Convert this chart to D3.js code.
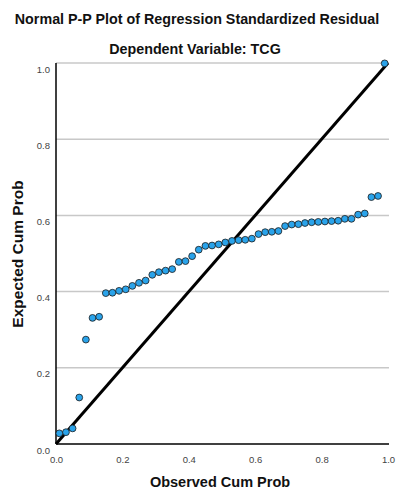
<!DOCTYPE html>
<html>
<head>
<meta charset="utf-8">
<script src="https://cdn.jsdelivr.net/npm/d3@7"></script>
<style>
  html, body { margin: 0; padding: 0; background: #fff; }
  svg text { font-family: "Liberation Sans", Arial, sans-serif; }
</style>
</head>
<body>
<svg id="chart" width="398" height="493"></svg>
<script>
// Expected cumulative probabilities of the standardized residuals, in observed order
const expectedCumProb = [
  0.028, 0.031, 0.041, 0.122, 0.274, 0.331, 0.334, 0.396, 0.397, 0.402,
  0.406, 0.415, 0.423, 0.429, 0.444, 0.451, 0.455, 0.459, 0.478, 0.480,
  0.493, 0.510, 0.520, 0.521, 0.524, 0.529, 0.533, 0.535, 0.536, 0.539,
  0.551, 0.556, 0.557, 0.559, 0.572, 0.576, 0.577, 0.580, 0.582, 0.583,
  0.584, 0.585, 0.586, 0.591, 0.591, 0.602, 0.605, 0.648, 0.651, 0.999
];
// Observed cumulative probabilities (case i of n)
const observedCumProb = [
  0.01, 0.03, 0.05, 0.07, 0.09, 0.11, 0.13, 0.15, 0.17, 0.19,
  0.21, 0.23, 0.25, 0.27, 0.29, 0.31, 0.33, 0.35, 0.37, 0.39,
  0.41, 0.43, 0.45, 0.47, 0.49, 0.51, 0.53, 0.55, 0.57, 0.59,
  0.61, 0.63, 0.65, 0.67, 0.69, 0.71, 0.73, 0.75, 0.77, 0.79,
  0.81, 0.83, 0.85, 0.87, 0.89, 0.91, 0.93, 0.95, 0.97, 0.99
];
const tickValues = [0.0, 0.2, 0.4, 0.6, 0.8, 1.0];
const gridValues = [0.2, 0.4, 0.6, 0.8, 1.0];
const referenceLine = [[0, 0], [1, 1]];

const svg = d3.select("#chart");
const plotLeft = 56, plotRight = 388, plotTop = 63, plotBottom = 444;

const x = d3.scaleLinear().domain([0, 1]).range([plotLeft, plotRight]);
const y = d3.scaleLinear().domain([0, 1]).range([plotBottom, plotTop]);

// titles
svg.append("text")
  .attr("x", 197).attr("y", 24)
  .attr("text-anchor", "middle")
  .attr("font-size", "14.3px").attr("font-weight", "bold").attr("fill", "#111")
  .text("Normal P-P Plot of Regression Standardized Residual");
svg.append("text")
  .attr("x", 195).attr("y", 54)
  .attr("text-anchor", "middle")
  .attr("font-size", "14.3px").attr("font-weight", "bold").attr("fill", "#111")
  .text("Dependent Variable: TCG");

// horizontal grid lines
svg.append("g").selectAll("line").data(gridValues).join("line")
  .attr("x1", x(0)).attr("x2", x(1) + 1)
  .attr("y1", d => y(d)).attr("y2", d => y(d))
  .attr("stroke", "#c8c8c8").attr("stroke-width", 1.5);

// axes
const xAxis = d3.axisBottom(x).tickValues(tickValues).tickFormat(d3.format(".1f")).tickSize(0).tickPadding(12);
const yAxis = d3.axisLeft(y).tickValues(tickValues).tickFormat(d3.format(".1f")).tickSize(0).tickPadding(6);

const gx = svg.append("g").attr("transform", `translate(0,${plotBottom})`).call(xAxis);
gx.select(".domain").remove();
gx.selectAll("text").attr("font-size", "9.5px").attr("fill", "#444").attr("font-family", "Liberation Sans, Arial, sans-serif");

const gy = svg.append("g").attr("transform", `translate(${plotLeft},0)`).call(yAxis);
gy.select(".domain").remove();
gy.selectAll("text").attr("font-size", "9.5px").attr("fill", "#444")
  .attr("dy", "0.95em").attr("font-family", "Liberation Sans, Arial, sans-serif");

svg.append("line")
  .attr("x1", x(0)).attr("x2", x(0))
  .attr("y1", y(1)).attr("y2", y(0))
  .attr("stroke", "#000").attr("stroke-width", 1.5);
svg.append("line")
  .attr("x1", x(0)).attr("x2", x(1) + 1)
  .attr("y1", y(0)).attr("y2", y(0))
  .attr("stroke", "#000").attr("stroke-width", 1.5);

// axis titles
svg.append("text")
  .attr("x", 220).attr("y", 487)
  .attr("text-anchor", "middle")
  .attr("font-size", "14.5px").attr("font-weight", "bold").attr("fill", "#111")
  .text("Observed Cum Prob");
svg.append("text")
  .attr("transform", "translate(23,254) rotate(-90)")
  .attr("text-anchor", "middle")
  .attr("font-size", "15.5px").attr("font-weight", "bold").attr("fill", "#111")
  .text("Expected Cum Prob");

// reference diagonal
svg.append("path")
  .datum(referenceLine)
  .attr("d", d3.line().x(d => x(d[0])).y(d => y(d[1])))
  .attr("stroke", "#000").attr("stroke-width", 3).attr("fill", "none");

// residual points
svg.append("g").selectAll("circle").data(expectedCumProb).join("circle")
  .attr("cx", (d, i) => x(observedCumProb[i]))
  .attr("cy", d => y(d))
  .attr("r", 3.4)
  .attr("fill", "#2aa3ea")
  .attr("stroke", "#1b1b1b").attr("stroke-width", 0.8);
</script>
</body>
</html>
